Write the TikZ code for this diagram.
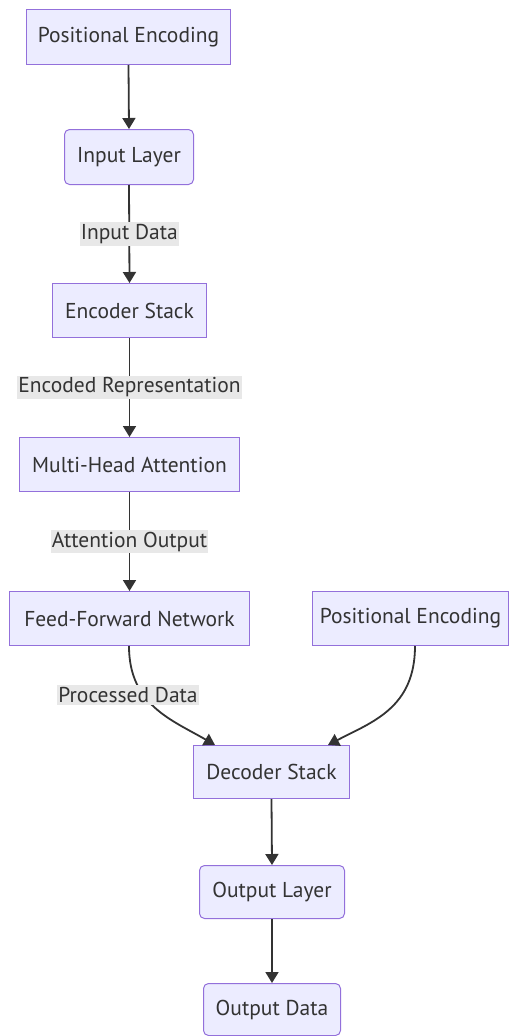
\documentclass[tikz,border=0pt]{standalone}
\usepackage{fontspec}
\setmainfont{PT Sans}
\usetikzlibrary{arrows.meta}
\definecolor{boxfill}{HTML}{ECECFF}
\definecolor{boxline}{HTML}{9370DB}
\definecolor{ink}{HTML}{333333}
\definecolor{lblbg}{HTML}{E8E8E8}
\tikzset{
  box/.style={draw=boxline, fill=boxfill, line width=1pt, text=ink,
    font=\fontsize{21.5}{24}\selectfont, inner sep=0pt, anchor=north west},
  roundbox/.style={box, rounded corners=5pt},
  lbl/.style={fill=lblbg, text=ink, font=\fontsize{21.5}{24}\selectfont,
    inner xsep=1pt, inner ysep=2pt},
  flow/.style={draw=ink, line width=1.8pt, -{Triangle[width=13pt,length=11pt]}},
}
\newcommand{\boxat}[7]{% style, name, x1, y1, x2, y2, text
  \node[#1, minimum width=#5pt-#3pt, minimum height=#6pt-#4pt] (#2) at (#3,#4) {#7};}
\begin{document}
\begin{tikzpicture}[x=1pt, y=-1pt]
\useasboundingbox (0,0) rectangle (509,1036);
\fill[white] (0,0) rectangle (509,1036);

\boxat{box}{pe1}{26}{9}{230}{64}{Positional Encoding}
\boxat{roundbox}{inl}{64}{129}{193}{184}{Input Layer}
\boxat{box}{enc}{52}{283}{206}{337}{Encoder Stack}
\boxat{box}{mha}{19}{437}{239}{491}{Multi-Head Attention}
\boxat{box}{ffn}{9}{591}{249}{645}{Feed-Forward Network}
\boxat{box}{pe2}{312}{591}{508}{645}{Positional Encoding}
\boxat{box}{dec}{193}{745}{349}{798}{Decoder Stack}
\boxat{roundbox}{outl}{199}{865}{344}{918}{Output Layer}
\boxat{roundbox}{outd}{203}{983}{340}{1035}{Output Data}

\draw[flow] (pe1.south) -- (inl.north);
\draw[flow] (inl.south) -- node[lbl] {Input Data} (enc.north);
\draw[flow] (enc.south) -- node[lbl] {Encoded Representation} (mha.north);
\draw[flow] (mha.south) -- node[lbl] {Attention Output} (ffn.north);

\coordinate (ffnout) at (ffn.south -| 129,0);
\coordinate (decinl) at (215,745);
\coordinate (decinr) at (328,745);
\coordinate (peout) at (pe2.south -| 415,0);
\draw[flow] (ffnout) .. controls (129,705) and (172,720) .. (decinl);
\node[lbl] (pdl) at (128,695) {Processed Data};
\draw[flow] (peout) .. controls (415,708) and (372,722) .. (decinr);

\draw[flow] (dec.south) -- (outl.north);
\draw[flow] (outl.south) -- (outd.north);
\end{tikzpicture}
\end{document}
